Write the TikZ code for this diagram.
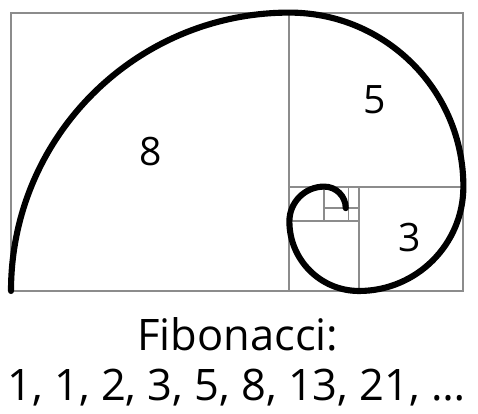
\documentclass[tikz,border=0pt]{standalone}
\usepackage{fontspec}
\setmainfont{Open Sans}
\usetikzlibrary{positioning}

\tikzset{
  frameline/.style={draw=gray!90,line width=1.5pt},
  spiralline/.style={draw=black,line width=5pt,line cap=round},
  numlabel/.style={font=\fontsize{32}{38}\selectfont},
  captext/.style={font=\fontsize{35.5}{42}\selectfont,anchor=base}
}

\begin{document}
\begin{tikzpicture}[scale=1]
  \useasboundingbox (-0.316,-3.534) rectangle (13.42,8.362);
%---------------------------------------------------------------------------
  % squares
  \draw[frameline] (0,0) rectangle (13,8);
  \draw[frameline] (8,0) -- (8,8);
  \draw[frameline] (8,3) -- (13,3);
  \draw[frameline] (10,0) -- (10,3);
  \draw[frameline] (8,2) -- (10,2);
  \draw[frameline] (9,2) -- (9,3);
  \draw[frameline] (9,2.38) -- (10,2.38);
  \draw[frameline] (9.7,2) -- (9.7,3);
%---------------------------------------------------------------------------
  % spiral
  \draw[spiralline] (0,0) arc[start angle=180,end angle=90,radius=8]
    arc[start angle=90,end angle=0,radius=5]
    arc[start angle=0,end angle=-90,radius=3]
    arc[start angle=-90,end angle=-180,radius=2]
    arc[start angle=180,end angle=90,radius=1]
    arc[start angle=90,end angle=0,radius=0.62];
%---------------------------------------------------------------------------
  \node[numlabel] (n8) at (4,4) {8};
  \node[numlabel] (n5) at (10.46,5.49) {5};
  \node[numlabel] (n3) at (11.47,1.55) {3};
%---------------------------------------------------------------------------
  \node[captext] (title) at (6.52,-1.70) {Fibonacci:};
  \node[captext] (seq) at (6.48,-3.14) {1, 1, 2, 3, 5, 8, 13, 21, \dots};
\end{tikzpicture}
\end{document}
